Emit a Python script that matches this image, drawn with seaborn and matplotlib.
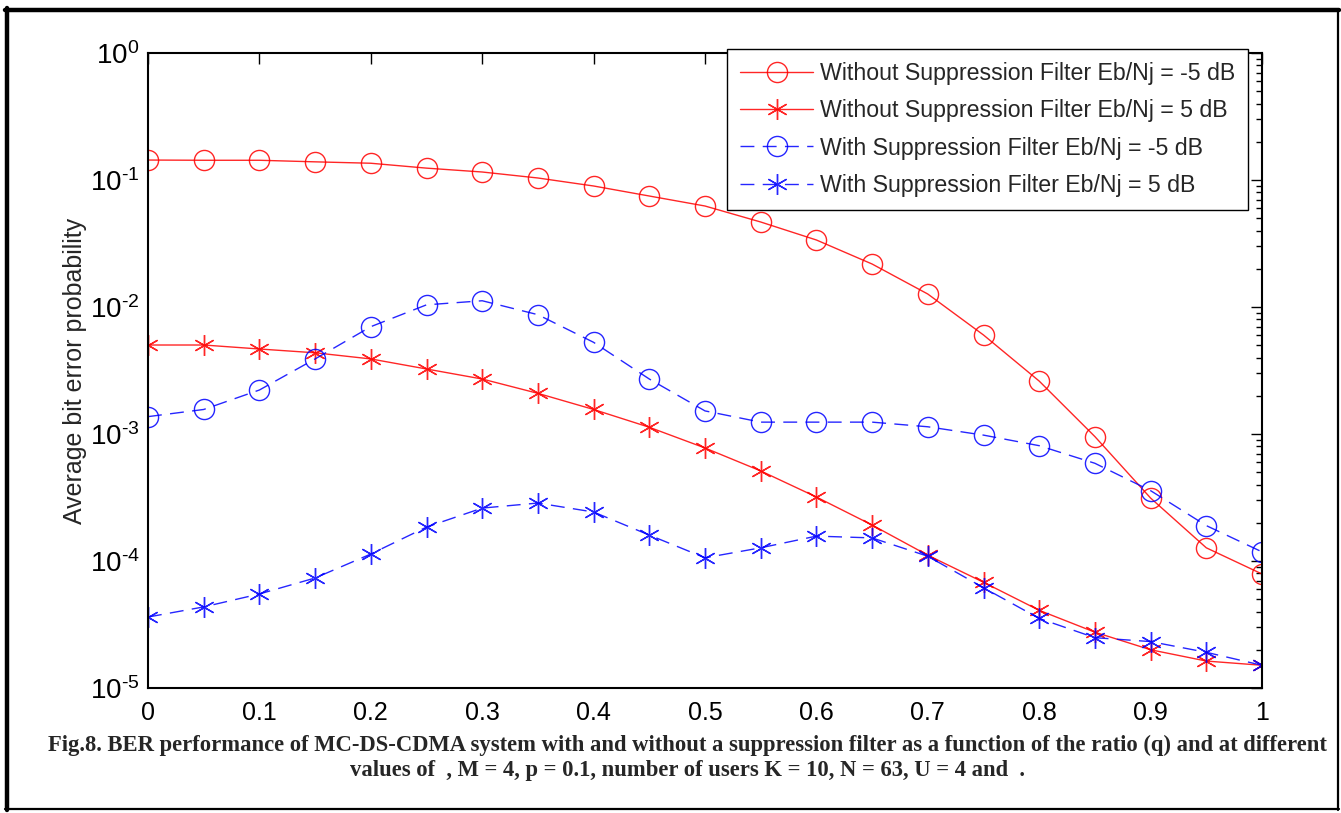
import numpy as np
import pandas as pd
import matplotlib
matplotlib.use("Agg")
import matplotlib.pyplot as plt
import seaborn as sns
from matplotlib.lines import Line2D
from matplotlib.ticker import LogLocator, FixedLocator, NullFormatter, FuncFormatter

q = [0, 0.05, 0.1, 0.15, 0.2, 0.25, 0.3, 0.35, 0.4, 0.45, 0.5,
     0.55, 0.6, 0.65, 0.7, 0.75, 0.8, 0.85, 0.9, 0.95, 1.0]

wo_m5 = [0.1436, 0.143, 0.143, 0.139, 0.1355, 0.124, 0.1156, 0.1037, 0.0897, 0.0748, 0.0624,
         0.0467, 0.0337, 0.0218, 0.01265, 0.00602, 0.00261, 0.000954, 0.000313, 0.000127, 7.9e-5]
wo_p5 = [0.00502, 0.00502, 0.00467, 0.00436, 0.00390, 0.00325, 0.00271, 0.00209, 0.00156, 0.00113, 0.000776,
         0.000512, 0.000319, 0.000192, 0.000111, 6.8e-5, 4.09e-5, 2.75e-5, 2.0e-5, 1.63e-5, 1.51e-5]
w_m5 = [0.00137, 0.00156, 0.00222, 0.0039, 0.0070, 0.0104, 0.0112, 0.0087, 0.00527, 0.00271, 0.00152,
        0.00124, 0.00124, 0.00124, 0.00114, 0.00098, 0.000809, 0.000588, 0.000358, 0.000190, 0.000118]
w_p5 = [3.62e-5, 4.35e-5, 5.5e-5, 7.35e-5, 0.0001135, 0.000185, 0.000261, 0.000286, 0.000243, 0.00016, 0.000106,
        0.000127, 0.000157, 0.000152, 0.000109, 6.16e-5, 3.53e-5, 2.49e-5, 2.32e-5, 1.91e-5, 1.51e-5]

labels = ["Without Suppression Filter Eb/Nj = -5 dB",
          "Without Suppression Filter Eb/Nj = 5 dB",
          "With Suppression Filter Eb/Nj = -5 dB",
          "With Suppression Filter Eb/Nj = 5 dB"]
xticks = [0, 0.1, 0.2, 0.3, 0.4, 0.5, 0.6, 0.7, 0.8, 0.9, 1]
xticklabels = ["0", "0.1", "0.2", "0.3", "0.4", "0.5", "0.6", "0.7", "0.8", "0.9", "1"]
ylabel = "Average bit error probability"
caption = ("Fig.8. BER performance of MC-DS-CDMA system with and without a suppression filter as a function of the ratio (q) and at different\n"
           "values of  , M = 4, p = 0.1, number of users K = 10, N = 63, U = 4 and  .")

sns.set_theme(style="white")
plt.rcParams['font.family'] = ['Liberation Sans', 'DejaVu Sans']
plt.rcParams['mathtext.fontset'] = 'custom'
plt.rcParams['mathtext.rm'] = 'Liberation Sans'
plt.rcParams['mathtext.it'] = 'Liberation Sans'
plt.rcParams['mathtext.default'] = 'regular'
plt.rcParams['axes.unicode_minus'] = False

fig = plt.figure(figsize=(13.41, 8.13), dpi=100)
ax = fig.add_axes([148/1341, 1-688/813, (1262-148)/1341, (688-53)/813])

series = [wo_m5, wo_p5, w_m5, w_p5]
colors = ["#ff0000", "#ff0000", "#0000ff", "#0000ff"]
markers = ["o", (6, 2, 0), "o", (6, 2, 0)]
styles = ["-", "-", (0, (10, 6)), (0, (10, 6))]
msizes = [14.5, 15, 14.5, 15]

for vals, lab, c, m, ls, ms in zip(series, labels, colors, markers, styles, msizes):
    df = pd.DataFrame({"q": q, "ber": vals})
    sns.lineplot(data=df, x="q", y="ber", ax=ax, color=c, marker=m, linestyle=ls,
                 linewidth=1.0, markersize=ms, markerfacecolor="none",
                 markeredgecolor=c, markeredgewidth=1.0, label=lab, alpha=0.85)

ax.set_yscale("log")
ax.set_xlim(0, 1)
ax.set_ylim(1e-5, 1)
ax.xaxis.set_major_locator(FixedLocator(xticks))
ax.set_xticklabels(xticklabels)
ax.yaxis.set_major_locator(LogLocator(base=10, numticks=10))
ax.yaxis.set_major_formatter(FuncFormatter(
    lambda v, p: r"$10^{\text{%d}}$" % int(round(np.log10(v)))))
ax.yaxis.set_minor_locator(LogLocator(base=10, subs=np.arange(2, 10), numticks=20))
ax.yaxis.set_minor_formatter(NullFormatter())
ax.tick_params(axis="both", which="both", direction="in", top=True, right=True, colors="black")
ax.tick_params(axis="x", which="major", labelsize=18, pad=9)
ax.tick_params(axis="y", which="major", labelsize=20, pad=6)
ax.tick_params(axis="both", which="major", length=8, width=1)
ax.tick_params(axis="both", which="minor", length=4, width=1)
ax.set_xlabel("")
ax.set_ylabel(ylabel, fontsize=18)
ax.yaxis.set_label_coords((87-148)/1114, 0.5)
for s in ax.spines.values():
    s.set_color("black")
    s.set_linewidth(1.5)
ax.grid(False)

leg = ax.legend(loc="upper right", bbox_to_anchor=(1248/1341, 1-49/813),
                bbox_transform=fig.transFigure, fontsize=16.7, frameon=True,
                fancybox=False, borderaxespad=0, handlelength=3.15, handletextpad=0.3,
                labelspacing=0.62, borderpad=0.55)
leg.get_frame().set_edgecolor("black")
leg.get_frame().set_linewidth(1.0)
leg.get_frame().set_alpha(1)

fig.text(687/1341, 1-758/813, caption, ha="center", va="center", multialignment="center",
         family=["Liberation Serif", "DejaVu Serif"], fontweight="bold", fontsize=16.3,
         linespacing=1.25)

# outer frame: thick left/top, thin right/bottom
fig.add_artist(Line2D([7/1341, 7/1341], [3/813, 1-8/813], transform=fig.transFigure, color="black", linewidth=3.2))
fig.add_artist(Line2D([5/1341, 1339/1341], [1-10/813, 1-10/813], transform=fig.transFigure, color="black", linewidth=3.2))
fig.add_artist(Line2D([1338/1341, 1338/1341], [3/813, 1-10/813], transform=fig.transFigure, color="black", linewidth=1.6))
fig.add_artist(Line2D([5/1341, 1339/1341], [4/813, 4/813], transform=fig.transFigure, color="black", linewidth=1.6))

fig.savefig("out.png", dpi=100)
